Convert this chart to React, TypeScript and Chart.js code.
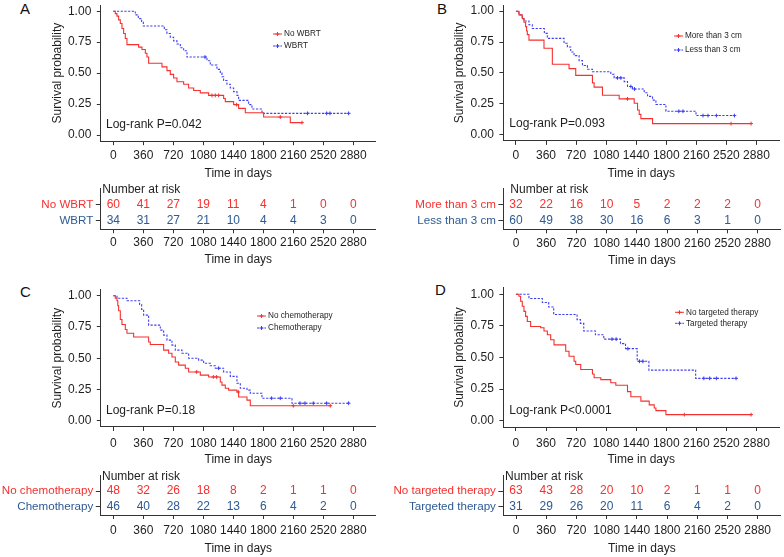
import React, { useEffect, useRef } from 'react';
import { Chart, registerables } from 'chart.js';
Chart.register(...registerables);

const W = 784, H = 557;
const FONT = '"Liberation Sans", Arial, Helvetica, sans-serif';
const TXT = '#1e1e1e';
const AX = '#333333';
const RED = '#F5302E';
const BLUE = '#3C3CF2';
const T_RED = '#F5302E';
const T_BLUE = '#2C5A94';
const LH = (12 * 1.2) / 2;

const xTicks = [0, 360, 720, 1080, 1440, 1800, 2160, 2520, 2880];
const yTicks = [0, 0.25, 0.5, 0.75, 1];

// ---------- Panel A ----------
const aNames = ['No WBRT', 'WBRT'];
const aNoTime = [0, 24, 44, 64, 84, 104, 124, 144, 164, 304, 344, 384, 404, 424, 584, 644, 684, 724, 764, 844, 904, 964, 1044, 1144, 1324, 1344, 1444, 1504, 1584, 1804, 2124, 2264];
const aNoSurv = [1, 0.98, 0.96, 0.93, 0.9, 0.86, 0.82, 0.78, 0.73, 0.71, 0.69, 0.66, 0.63, 0.58, 0.55, 0.52, 0.49, 0.46, 0.43, 0.41, 0.38, 0.36, 0.34, 0.32, 0.295, 0.27, 0.245, 0.215, 0.18, 0.145, 0.1, 0.1];
const aNoCens = [1184, 1224, 1264, 1480, 2004, 2264];
const aYesTime = [0, 264, 300, 340, 360, 612, 644, 684, 724, 764, 804, 844, 884, 1124, 1164, 1244, 1284, 1304, 1324, 1364, 1404, 1444, 1484, 1504, 1624, 1664, 1784, 2824];
const aYesSurv = [1, 0.97, 0.94, 0.91, 0.88, 0.85, 0.82, 0.79, 0.76, 0.735, 0.705, 0.68, 0.63, 0.6, 0.565, 0.53, 0.5, 0.47, 0.44, 0.41, 0.38, 0.35, 0.32, 0.28, 0.245, 0.21, 0.175, 0.175];
const aYesCens = [1100, 2330, 2560, 2600, 2824];
const aRiskNo = [60, 41, 27, 19, 11, 4, 1, 0, 0];
const aRiskYes = [34, 31, 27, 21, 10, 4, 4, 3, 0];
const aP = 'Log-rank P=0.042';

// ---------- Panel B ----------
const bNames = ['More than 3 cm', 'Less than 3 cm'];
const bMoreTime = [0, 36, 76, 96, 116, 128, 136, 156, 336, 436, 636, 716, 916, 936, 1036, 1236, 1416, 1456, 1476, 1496, 1636, 2816];
const bMoreSurv = [1, 0.97, 0.94, 0.91, 0.875, 0.84, 0.81, 0.766, 0.7, 0.57, 0.535, 0.48, 0.42, 0.385, 0.32, 0.29, 0.255, 0.2, 0.165, 0.13, 0.09, 0.09];
const bMoreCens = [1336, 2576, 2816];
const bLessTime = [0, 36, 76, 96, 156, 196, 340, 376, 576, 616, 656, 696, 756, 796, 856, 916, 1136, 1176, 1296, 1336, 1396, 1536, 1576, 1636, 1676, 1796, 2156, 2616];
const bLessSurv = [1, 0.97, 0.95, 0.92, 0.89, 0.86, 0.82, 0.78, 0.74, 0.71, 0.67, 0.64, 0.6, 0.56, 0.53, 0.51, 0.49, 0.46, 0.43, 0.39, 0.37, 0.34, 0.31, 0.28, 0.245, 0.19, 0.155, 0.155];
const bLessCens = [1216, 1256, 1376, 1420, 1950, 2000, 2240, 2300, 2400, 2616];
const bRiskMore = [32, 22, 16, 10, 5, 2, 2, 2, 0];
const bRiskLess = [60, 49, 38, 30, 16, 6, 3, 1, 0];
const bP = 'Log-rank P=0.093';

// ---------- Panel C ----------
const cNames = ['No chemotherapy', 'Chemotherapy'];
const cNoTime = [0, 24, 44, 54, 64, 84, 104, 144, 164, 244, 424, 444, 604, 664, 704, 744, 784, 864, 904, 1044, 1144, 1284, 1304, 1344, 1384, 1484, 1504, 1604, 1644, 2604];
const cNoSurv = [1, 0.98, 0.96, 0.92, 0.88, 0.81, 0.77, 0.73, 0.7, 0.67, 0.63, 0.61, 0.565, 0.54, 0.51, 0.47, 0.445, 0.42, 0.39, 0.365, 0.35, 0.31, 0.285, 0.26, 0.245, 0.23, 0.19, 0.165, 0.12, 0.12];
const cNoCens = [1000, 1200, 1240, 1500, 2160, 2604];
const cYesTime = [0, 44, 164, 316, 340, 364, 424, 564, 604, 644, 704, 744, 824, 904, 1024, 1084, 1164, 1224, 1324, 1404, 1484, 1524, 1604, 1644, 1784, 2144, 2824];
const cYesSurv = [1, 0.98, 0.96, 0.93, 0.89, 0.845, 0.765, 0.725, 0.685, 0.645, 0.605, 0.565, 0.54, 0.5, 0.485, 0.46, 0.44, 0.42, 0.39, 0.355, 0.3, 0.26, 0.245, 0.22, 0.18, 0.14, 0.14];
const cYesCens = [1264, 1900, 2004, 2240, 2300, 2400, 2560, 2824];
const cRiskNo = [48, 32, 26, 18, 8, 2, 1, 1, 0];
const cRiskYes = [46, 40, 28, 22, 13, 6, 4, 2, 0];
const cP = 'Log-rank P=0.18';

// ---------- Panel D ----------
const dNames = ['No targeted therapy', 'Targeted therapy'];
const dNoTime = [0, 36, 56, 76, 96, 116, 136, 176, 296, 336, 376, 416, 456, 596, 636, 696, 716, 776, 916, 936, 1016, 1136, 1196, 1336, 1376, 1496, 1596, 1656, 1676, 1796, 2816];
const dNoSurv = [1, 0.985, 0.945, 0.905, 0.865, 0.825, 0.785, 0.745, 0.735, 0.71, 0.68, 0.64, 0.6, 0.55, 0.51, 0.47, 0.445, 0.405, 0.37, 0.34, 0.325, 0.3, 0.28, 0.23, 0.19, 0.155, 0.125, 0.1, 0.08, 0.048, 0.048];
const dNoCens = [2016, 2816];
const dYesTime = [0, 156, 316, 392, 452, 732, 772, 812, 952, 1052, 1252, 1312, 1452, 1592, 2152, 2636];
const dYesSurv = [1, 0.967, 0.935, 0.9, 0.84, 0.8, 0.77, 0.71, 0.68, 0.645, 0.61, 0.57, 0.47, 0.4, 0.335, 0.335];
const dYesCens = [1150, 1200, 1340, 1480, 1520, 2250, 2320, 2400, 2636];
const dRiskNo = [63, 43, 28, 20, 10, 2, 1, 1, 0];
const dRiskYes = [31, 29, 26, 20, 11, 6, 4, 2, 0];
const dP = 'Log-rank P<0.0001';

type Series = { label: string; time: number[]; surv: number[]; cens: number[]; color: string; dash: number[] };
type Panel = {
  letter: string;
  letterPos: [number, number];
  series: Series[];
  risk: number[][];
  names: string[];
  pText: string;
  km: { x0: number; x2880: number; y1: number; y0: number; yTitleX: number; xLabelY: number; xTitleY: number; pPos: [number, number]; leg: [number, number, number] };
  tb: { r1: number; r2: number; axisY: number; xLabelY: number; xTitleY: number; headX: number };
};

const DASH = [2.2, 1.5];
const mk = (label: string, time: number[], surv: number[], cens: number[], solid: boolean): Series => ({
  label, time, surv, cens, color: solid ? RED : BLUE, dash: solid ? [] : DASH,
});

const panels: Panel[] = [
  {
    letter: 'A', letterPos: [20, 8.7],
    series: [mk(aNames[0], aNoTime, aNoSurv, aNoCens, true), mk(aNames[1], aYesTime, aYesSurv, aYesCens, false)],
    risk: [aRiskNo, aRiskYes], names: aNames, pText: aP,
    km: { x0: 113.3, x2880: 353.3, y1: 11, y0: 135, yTitleX: 57.5, xLabelY: 155.7, xTitleY: 173.3, pPos: [106, 125], leg: [273, 34, 12] },
    tb: { r1: 204.3, r2: 220.3, axisY: 229.3, xLabelY: 242.3, xTitleY: 260, headX: 102.3 },
  },
  {
    letter: 'B', letterPos: [437, 8.7],
    series: [mk(bNames[0], bMoreTime, bMoreSurv, bMoreCens, true), mk(bNames[1], bLessTime, bLessSurv, bLessCens, false)],
    risk: [bRiskMore, bRiskLess], names: bNames, pText: bP,
    km: { x0: 516, x2880: 757.7, y1: 11, y0: 134.7, yTitleX: 460, xLabelY: 155.7, xTitleY: 173.3, pPos: [509.3, 124], leg: [674, 36, 14] },
    tb: { r1: 204.3, r2: 220.7, axisY: 229.3, xLabelY: 243.3, xTitleY: 260.7, headX: 510.3 },
  },
  {
    letter: 'C', letterPos: [20, 291.7],
    series: [mk(cNames[0], cNoTime, cNoSurv, cNoCens, true), mk(cNames[1], cYesTime, cYesSurv, cYesCens, false)],
    risk: [cRiskNo, cRiskYes], names: cNames, pText: cP,
    km: { x0: 113.3, x2880: 353.3, y1: 295.7, y0: 420.7, yTitleX: 57.5, xLabelY: 444, xTitleY: 460, pPos: [106, 411], leg: [257, 316, 12] },
    tb: { r1: 491, r2: 506.7, axisY: 515, xLabelY: 531, xTitleY: 548.3, headX: 102 },
  },
  {
    letter: 'D', letterPos: [435, 290],
    series: [mk(dNames[0], dNoTime, dNoSurv, dNoCens, true), mk(dNames[1], dYesTime, dYesSurv, dYesCens, false)],
    risk: [dRiskNo, dRiskYes], names: dNames, pText: dP,
    km: { x0: 516, x2880: 757.7, y1: 294.3, y0: 420.7, yTitleX: 460, xLabelY: 444, xTitleY: 460, pPos: [509.3, 411], leg: [675, 312.3, 11] },
    tb: { r1: 491, r2: 506.7, axisY: 515, xLabelY: 531, xTitleY: 548.3, headX: 505 },
  },
];

function survAt(s: Series, t: number) {
  let v = s.surv[0];
  for (let i = 0; i < s.time.length; i++) if (s.time[i] <= t) v = s.surv[i];
  return v;
}

function xRange(p: Panel) {
  const ppd = (p.km.x2880 - p.km.x0) / 2880;
  return { left: p.km.x0 - 150 * ppd, right: p.km.x0 + 3150 * ppd };
}

const font12 = { family: FONT, size: 12 };
const gridOpt = (tl: number) => ({ display: true, drawOnChartArea: false, drawTicks: true, tickLength: tl, color: AX, lineWidth: 1 });
const borderOpt = { display: true, color: AX, width: 1 };

function xScale(bottom: number, hx: number, labelY: number, tl: number) {
  return {
    type: 'linear', min: -150, max: 3150,
    afterBuildTicks: (s: any) => { s.ticks = xTicks.map((v) => ({ value: v })); },
    afterFit: (s: any) => { s.height = hx; s.paddingLeft = 0; s.paddingRight = 0; },
    ticks: { callback: (v: any) => String(v), font: font12, color: TXT, padding: labelY - bottom - tl - LH, maxRotation: 0, minRotation: 0, autoSkip: false },
    grid: gridOpt(tl), border: borderOpt,
    title: { display: true, text: 'Time in days', font: font12, color: TXT, padding: 0 },
  };
}

function kmPlugin(p: Panel) {
  return {
    id: 'kmDecor' + p.letter,
    afterDraw(chart: any) {
      const ctx = chart.ctx;
      ctx.save();
      ctx.fillStyle = TXT;
      ctx.font = `12px ${FONT}`;
      ctx.textBaseline = 'middle';
      ctx.textAlign = 'left';
      ctx.fillText(p.pText, p.km.pPos[0], p.km.pPos[1]);
      const [lx, ly, dy] = p.km.leg;
      p.series.forEach((s, i) => {
        const y = ly + i * dy;
        ctx.strokeStyle = s.color;
        ctx.lineWidth = 1;
        ctx.setLineDash(s.dash);
        ctx.beginPath(); ctx.moveTo(lx, y); ctx.lineTo(lx + 9, y); ctx.stroke();
        ctx.setLineDash([]);
        ctx.beginPath();
        ctx.moveTo(lx + 4.5, y - 2); ctx.lineTo(lx + 4.5, y + 2);
        ctx.moveTo(lx + 2.5, y); ctx.lineTo(lx + 6.5, y);
        ctx.stroke();
        ctx.fillStyle = TXT;
        ctx.font = `8.2px ${FONT}`;
        ctx.fillText(s.label, lx + 11, y);
      });
      ctx.restore();
    },
  };
}

function kmConfig(p: Panel): any {
  const g = p.km;
  const { left, right } = xRange(p);
  const ppu = g.y0 - g.y1;
  const top = g.y1 - 0.05 * ppu;
  const bottom = g.y0 + 0.05 * ppu;
  const padLeft = g.yTitleX - LH;
  const wy = left - padLeft;
  const hx = g.xTitleY + LH - bottom;
  const padBottom = H - bottom - hx;
  const datasets: any[] = [];
  p.series.forEach((s) => {
    datasets.push({
      type: 'line', data: s.time.map((t, i) => ({ x: t, y: s.surv[i] })), stepped: true,
      borderColor: s.color, borderWidth: 1.1, borderDash: s.dash, pointRadius: 0, fill: false,
    });
  });
  p.series.forEach((s) => {
    datasets.push({
      type: 'scatter', data: s.cens.map((t) => ({ x: t, y: survAt(s, t) })), pointStyle: 'cross',
      pointRadius: 1.9, borderColor: s.color, backgroundColor: s.color, borderWidth: 1, showLine: false,
    });
  });
  return {
    type: 'line',
    data: { datasets },
    options: {
      animation: false, responsive: false, events: [],
      layout: { padding: { left: padLeft, right: W - right, top, bottom: padBottom } },
      plugins: { legend: { display: false }, tooltip: { enabled: false }, title: { display: false } },
      scales: {
        x: xScale(bottom, hx, g.xLabelY, 4),
        y: {
          type: 'linear', min: -0.05, max: 1.05,
          afterBuildTicks: (s: any) => { s.ticks = yTicks.map((v) => ({ value: v })); },
          afterFit: (s: any) => { s.width = wy; s.paddingTop = 0; s.paddingBottom = 0; },
          ticks: { callback: (v: any) => Number(v).toFixed(2), font: font12, color: TXT, padding: 5.5 },
          grid: gridOpt(4), border: borderOpt,
          title: { display: true, text: 'Survival probability', font: font12, color: TXT, padding: { top: 0, bottom: 0 } },
        },
      },
    },
    plugins: [kmPlugin(p)],
  };
}

function riskPlugin(p: Panel) {
  return {
    id: 'risk' + p.letter,
    afterDatasetsDraw(chart: any) {
      const ctx = chart.ctx;
      ctx.save();
      ctx.textAlign = 'center';
      ctx.textBaseline = 'middle';
      ctx.font = `12px ${FONT}`;
      chart.data.datasets.forEach((ds: any, i: number) => {
        const meta = chart.getDatasetMeta(i);
        ctx.fillStyle = ds.textColor;
        meta.data.forEach((el: any, j: number) => ctx.fillText(String(ds.counts[j]), el.x, el.y));
      });
      ctx.textAlign = 'left';
      ctx.fillStyle = TXT;
      ctx.fillText('Number at risk', p.tb.headX, p.tb.r1 - 14.5);
      ctx.restore();
    },
  };
}

function tableConfig(p: Panel): any {
  const t = p.tb;
  const { left, right } = xRange(p);
  const unit = t.r2 - t.r1;
  const top = t.r1 - 16;
  const bottom = t.axisY;
  const ymax = 1 + (t.r1 - top) / unit;
  const ymin = -(bottom - t.r2) / unit;
  const padLeft = 0;
  const wy = left - padLeft;
  const hx = t.xTitleY + LH - bottom;
  const padBottom = H - bottom - hx;
  const rowColors = [T_RED, T_BLUE];
  const datasets = p.risk.map((row, i) => ({
    type: 'line', data: xTicks.map((x) => ({ x, y: i === 0 ? 1 : 0 })), counts: row, textColor: rowColors[i],
    pointRadius: 0, showLine: false, borderWidth: 0,
  }));
  return {
    type: 'line',
    data: { datasets },
    options: {
      animation: false, responsive: false, events: [],
      layout: { padding: { left: padLeft, right: W - right, top, bottom: padBottom } },
      plugins: { legend: { display: false }, tooltip: { enabled: false } },
      scales: {
        x: xScale(bottom, hx, t.xLabelY, 4),
        y: {
          type: 'linear', min: ymin, max: ymax,
          afterBuildTicks: (s: any) => { s.ticks = [{ value: 1 }, { value: 0 }]; },
          afterFit: (s: any) => { s.width = wy; s.paddingTop = 0; s.paddingBottom = 0; },
          ticks: {
            callback: (v: any) => (Number(v) === 1 ? p.names[0] : p.names[1]),
            color: (c: any) => (c.tick && c.tick.value === 1 ? T_RED : T_BLUE),
            font: { family: FONT, size: 11.6 }, padding: 2.5,
          },
          grid: gridOpt(5), border: borderOpt,
        },
      },
    },
    plugins: [riskPlugin(p)],
  };
}

export default function App() {
  const refs = useRef<(HTMLCanvasElement | null)[]>([]);
  useEffect(() => {
    const charts: Chart[] = [];
    panels.forEach((p, i) => {
      const c1 = refs.current[i * 2];
      const c2 = refs.current[i * 2 + 1];
      if (c1) charts.push(new Chart(c1, kmConfig(p)));
      if (c2) charts.push(new Chart(c2, tableConfig(p)));
    });
    return () => charts.forEach((c) => c.destroy());
  }, []);
  const cs: React.CSSProperties = { position: 'absolute', left: 0, top: 0, width: W, height: H };
  return (
    <div style={{ position: 'absolute', left: 0, top: 0, width: W, height: H, background: '#fff', overflow: 'hidden' }}>
      {panels.map((p) => (
        <div key={p.letter} style={{ position: 'absolute', left: p.letterPos[0], top: p.letterPos[1] - 8, fontFamily: FONT, fontSize: 15, lineHeight: '16px', color: '#111' }}>
          {p.letter}
        </div>
      ))}
      {Array.from({ length: 8 }).map((_, i) => (
        <canvas key={i} ref={(el) => { refs.current[i] = el; }} width={W} height={H} style={cs} />
      ))}
    </div>
  );
}
